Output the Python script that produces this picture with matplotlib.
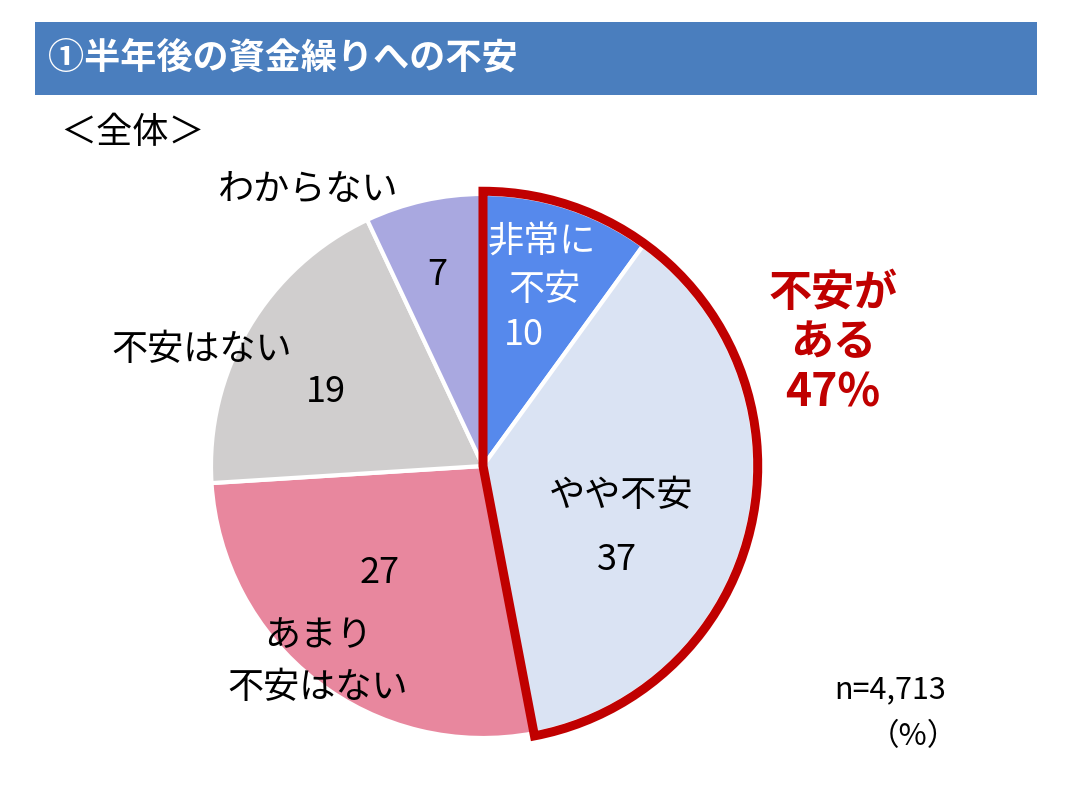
import matplotlib.pyplot as plt
from matplotlib.patches import Wedge, Rectangle

plt.rcParams['font.family'] = ['Noto Sans CJK JP', 'DejaVu Sans']

# data
categories = ['非常に不安', 'やや不安', 'あまり不安はない', '不安はない', 'わからない']
values = [10, 37, 27, 19, 7]
colors = ['#5689EC', '#DAE3F3', '#E8879E', '#D0CECE', '#A9A8E0']
anxious_total = 47
n_total = '4,713'

W, H = 1071, 794
fig = plt.figure(figsize=(W / 100, H / 100), dpi=100)


def px(x, y):
    return x / W, 1 - y / H


# title bar
bar = Rectangle(px(35, 95), 1002 / W, 73 / H, transform=fig.transFigure,
                facecolor='#4A7EBE', edgecolor='none')
fig.patches.append(bar)
fig.text(*px(48, 58), '①半年後の資金繰りへの不安', color='white', fontsize=26,
         fontweight='bold', va='center', ha='left')
fig.text(*px(60, 133), '＜全体＞', fontsize=26, va='center', ha='left')

# pie
cx, cy, r = 483, 466, 272
ax = fig.add_axes([(cx - r) / W, 1 - (cy + r) / H, 2 * r / W, 2 * r / H])
ax.pie(values, colors=colors, startangle=90, counterclock=False,
       wedgeprops=dict(edgecolor='white', linewidth=3))
ax.set_xlim(-1, 1)
ax.set_ylim(-1, 1)
ax.set_aspect('equal')
ax.axis('off')

# red outline around the anxious wedges
share = sum(values[:2]) / sum(values)
outline = Wedge((0, 0), 1.01, 90 - 360 * share, 90, fill=False,
                edgecolor='#C00000', linewidth=6.5, joinstyle='miter', clip_on=False)
ax.add_patch(outline)

# labels
fs = 26
fig.text(*px(542, 243), '非常に', color='white', fontsize=fs, ha='center', va='center')
fig.text(*px(545, 290), '不安', color='white', fontsize=fs, ha='center', va='center')
fig.text(*px(524, 335), str(values[0]), color='white', fontsize=fs, ha='center', va='center')

fig.text(*px(621, 496), 'やや不安', fontsize=fs, ha='center', va='center')
fig.text(*px(617, 560), str(values[1]), fontsize=fs, ha='center', va='center')

fig.text(*px(380, 573), str(values[2]), fontsize=fs, ha='center', va='center')
fig.text(*px(318, 636), 'あまり', fontsize=fs, ha='center', va='center')
fig.text(*px(318, 688), '不安はない', fontsize=fs, ha='center', va='center')

fig.text(*px(202, 350), '不安はない', fontsize=fs, ha='center', va='center')
fig.text(*px(326, 392), str(values[3]), fontsize=fs, ha='center', va='center')

fig.text(*px(308, 190), 'わからない', fontsize=fs, ha='center', va='center')
fig.text(*px(437, 275), str(values[4]), fontsize=fs, ha='center', va='center')

red = '#C00000'
fig.text(*px(833, 293), '不安が', color=red, fontsize=31, fontweight='bold', ha='center', va='center')
fig.text(*px(833, 342), 'ある', color=red, fontsize=31, fontweight='bold', ha='center', va='center')
fig.text(*px(833, 393), f'{anxious_total}%', color=red, fontsize=32, fontweight='bold', ha='center', va='center')

fig.text(*px(946, 690), f'n={n_total}', fontsize=22, ha='right', va='center')
fig.text(*px(958, 737), '（%）', fontsize=22, ha='right', va='center')

fig.savefig('out.png', dpi=100)
